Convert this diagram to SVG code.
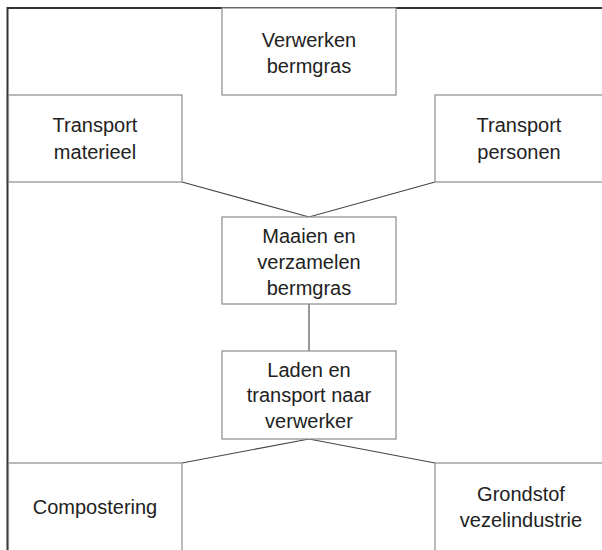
<svg xmlns="http://www.w3.org/2000/svg" width="602" height="550" viewBox="0 0 602 550">
<style>
.box{fill:#fff;stroke:#8c8c8c;stroke-width:1.2}
.t{font-family:"Liberation Sans",Arial,sans-serif;font-size:20px;fill:#222;text-anchor:middle}
.c{stroke:#444;stroke-width:1.1;fill:none}
</style>
<rect width="602" height="550" fill="#fff"/>
<g id="frame"><path d="M7.5 550 V8 H602" fill="none" stroke="#333" stroke-width="2"/></g>
<g id="connectors">
<path class="c" d="M182 182 L309 217 L435 182"/>
<path class="c" d="M309 304 V351"/>
<path class="c" d="M182 463 L309 439 L435 463"/>
</g>
<g id="verwerken"><rect class="box" x="222" y="8" width="174" height="87"/><text class="t" x="309" y="47">Verwerken</text><text class="t" x="309" y="73">bermgras</text></g>
<g id="transport-materieel"><rect class="box" x="8.5" y="95" width="173.5" height="87"/><text class="t" x="95" y="132">Transport</text><text class="t" x="95" y="159">materieel</text></g>
<g id="transport-personen"><rect class="box" x="435" y="95" width="180" height="87"/><text class="t" x="519" y="132">Transport</text><text class="t" x="519" y="159">personen</text></g>
<g id="maaien"><rect class="box" x="222" y="217" width="174" height="87"/><text class="t" x="309" y="243">Maaien en</text><text class="t" x="309" y="269">verzamelen</text><text class="t" x="309" y="295">bermgras</text></g>
<g id="laden"><rect class="box" x="222" y="351" width="174" height="88"/><text class="t" x="309" y="377">Laden en</text><text class="t" x="309" y="402">transport naar</text><text class="t" x="309" y="428">verwerker</text></g>
<g id="compostering"><rect class="box" x="8.5" y="463" width="173.5" height="100"/><text class="t" x="95" y="514">Compostering</text></g>
<g id="grondstof"><rect class="box" x="435" y="463" width="180" height="100"/><text class="t" x="521" y="501">Grondstof</text><text class="t" x="521" y="527">vezelindustrie</text></g>
</svg>
